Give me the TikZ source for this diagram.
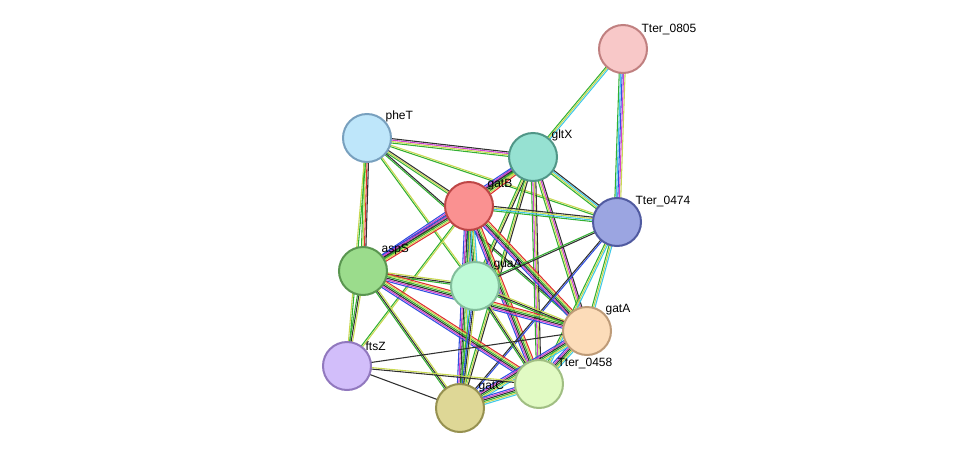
\documentclass[tikz,border=0pt]{standalone}
\usepackage{fontspec}
\setmainfont{Liberation Sans}
\usetikzlibrary{calc,backgrounds}
\definecolor{cg}{HTML}{33B033}
\definecolor{cy}{HTML}{C8D850}
\definecolor{cc}{HTML}{40C8E8}
\definecolor{cb}{HTML}{3050E0}
\definecolor{cm}{HTML}{D040D0}
\definecolor{cr}{HTML}{E03030}
\definecolor{ck}{HTML}{303030}
\tikzset{prot/.style={circle,minimum size=36pt,inner sep=0pt,line width=1.5pt},
 lab/.style={font=\fontsize{9pt}{10pt}\selectfont,anchor=south west,inner sep=1pt}}
\newcommand\edg[4]{\foreach \c [count=\i] in {#4}{\pgfmathsetmacro\k{(\i-(#3+1)/2)*1.1}
 \draw[draw=\c,line width=0.8pt] ($(#1.center)!\k pt!90:(#2.center)$) -- ($(#2.center)!\k pt!-90:(#1.center)$);}}
\begin{document}
\begin{tikzpicture}[x=0.75pt,y=-0.75pt]
\useasboundingbox (0,0) rectangle (976,454);
\node[prot,fill={rgb,255:red,248;green,200;blue,200},draw={rgb,255:red,192;green,128;blue,128}] (t805) at (623,49) {};
\node[prot,fill={rgb,255:red,190;green,230;blue,250},draw={rgb,255:red,120;green,160;blue,190}] (phet) at (367,138) {};
\node[prot,fill={rgb,255:red,150;green,225;blue,210},draw={rgb,255:red,80;green,150;blue,135}] (gltx) at (533,157) {};
\node[prot,fill={rgb,255:red,250;green,145;blue,145},draw={rgb,255:red,190;green,70;blue,70}] (gatb) at (469,206) {};
\node[prot,fill={rgb,255:red,155;green,165;blue,225},draw={rgb,255:red,80;green,90;blue,160}] (t474) at (617,222) {};
\node[prot,fill={rgb,255:red,155;green,220;blue,140},draw={rgb,255:red,90;green,150;blue,80}] (asps) at (363,271) {};
\node[prot,fill={rgb,255:red,190;green,250;blue,215},draw={rgb,255:red,130;green,190;blue,155}] (guaa) at (475,286) {};
\node[prot,fill={rgb,255:red,252;green,220;blue,185},draw={rgb,255:red,190;green,155;blue,120}] (gata) at (587,331) {};
\node[prot,fill={rgb,255:red,210;green,190;blue,250},draw={rgb,255:red,145;green,120;blue,190}] (ftsz) at (347,366) {};
\node[prot,fill={rgb,255:red,225;green,250;blue,195},draw={rgb,255:red,160;green,190;blue,130}] (t458) at (539,384) {};
\node[prot,fill={rgb,255:red,222;green,215;blue,150},draw={rgb,255:red,150;green,145;blue,80}] (gatc) at (460,408) {};
\node[lab] (l1) at (640,36) {Tter\_0805};
\node[lab] (l2) at (384,124) {pheT};
\node[lab] (l3) at (550,143) {gltX};
\node[lab] (l4) at (486,192) {gatB};
\node[lab] (l5) at (634,208) {Tter\_0474};
\node[lab] (l6) at (380,257) {aspS};
\node[lab] (l7) at (492,272) {guaA};
\node[lab] (l8) at (604,317) {gatA};
\node[lab] (l9) at (364,352) {ftsZ};
\node[lab] (l10) at (556,370) {Tter\_0458};
\node[lab] (l11) at (477,394) {gatC};
\begin{pgfonlayer}{background}
\edg{t805}{gltx}{3}{cg,cy,cc}
\edg{t805}{t474}{5}{cg,cc,cb,cm,cy}
\edg{phet}{gltx}{4}{cg,cy,cm,ck}
\edg{phet}{gatb}{3}{cg,cy,ck}
\edg{phet}{asps}{4}{cg,cy,cr,ck}
\edg{phet}{t474}{2}{cg,cy}
\edg{phet}{guaa}{2}{cg,cy}
\edg{phet}{gata}{2}{cg,ck}
\edg{phet}{ftsz}{2}{cy,cg}
\edg{gltx}{gatb}{6}{cb,cm,ck,cg,cy,cr}
\edg{gltx}{t474}{4}{cg,cy,cc,ck}
\edg{gltx}{asps}{5}{cb,cm,ck,cg,cy}
\edg{gltx}{guaa}{3}{cg,cy,ck}
\edg{gltx}{gata}{4}{cg,cy,cm,ck}
\edg{gltx}{t458}{4}{cg,cm,cy,ck}
\edg{gltx}{gatc}{3}{cg,cy,ck}
\edg{gatb}{t474}{4}{cg,cc,cy,ck}
\edg{gatb}{asps}{6}{cb,cm,ck,cg,cy,cr}
\edg{gatb}{guaa}{6}{cb,cm,ck,cg,cy,cc}
\edg{gatb}{gata}{6}{cb,cm,ck,cg,cy,cr}
\edg{gatb}{t458}{6}{cb,cm,ck,cg,cy,cr}
\edg{gatb}{gatc}{6}{cb,cm,ck,cg,cy,cc}
\edg{gatb}{ftsz}{2}{cg,cy}
\edg{t474}{guaa}{2}{cg,ck}
\edg{t474}{gata}{3}{cg,cy,cc}
\edg{t474}{t458}{3}{cg,cy,cc}
\edg{t474}{gatc}{2}{ck,cb}
\edg{asps}{guaa}{3}{cg,ck,cy}
\edg{asps}{gata}{6}{cb,cm,ck,cg,cy,cr}
\edg{asps}{t458}{6}{cb,cm,ck,cg,cy,cr}
\edg{asps}{gatc}{3}{cg,ck,cy}
\edg{asps}{ftsz}{3}{cg,ck,cy}
\edg{guaa}{gata}{3}{cg,ck,cy}
\edg{guaa}{t458}{3}{cg,ck,cy}
\edg{guaa}{gatc}{4}{cg,cb,ck,cy}
\edg{gata}{t458}{6}{cb,cm,ck,cg,cy,cc}
\edg{gata}{gatc}{6}{cb,cm,ck,cg,cy,cc}
\edg{gata}{ftsz}{1}{ck}
\edg{t458}{gatc}{6}{cb,cm,ck,cg,cy,cc}
\edg{ftsz}{gatc}{1}{ck}
\edg{ftsz}{t458}{2}{ck,cy}
\end{pgfonlayer}
\end{tikzpicture}
\end{document}
